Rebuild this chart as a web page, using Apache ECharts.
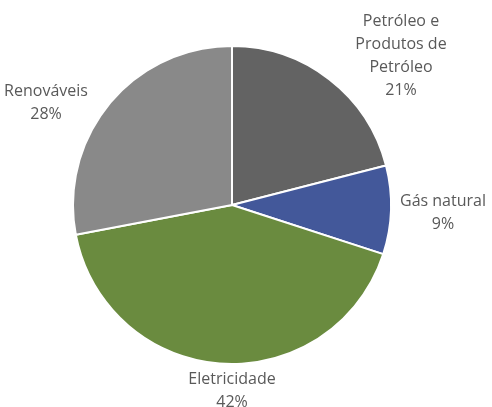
<!DOCTYPE html>
<html>
<head>
<meta charset="utf-8">
<script src="https://cdn.jsdelivr.net/npm/echarts@6/dist/echarts.min.js"></script>
<style>
  html, body { margin: 0; padding: 0; background: #fff; }
  #chart { width: 492px; height: 407px; }
</style>
</head>
<body>
<div id="chart"></div>
<script>
var categories = ["Petróleo e\nProdutos de\nPetróleo", "Gás natural", "Eletricidade", "Renováveis"];
var values = [21, 9, 42, 28];
var colors = ["#636363", "#43589a", "#6a8b3f", "#898989"];
// label centres as placed in the reference
var labelSpots = [[401, 56], [443, 213], [232, 391], [46, 103]];

var chart = echarts.init(document.getElementById("chart"));
var option = {
  backgroundColor: "#fff",
  animation: false,
  series: [{
    type: "pie",
    center: [232, 205],
    radius: 159,
    startAngle: 90,
    clockwise: true,
    data: categories.map(function (c, i) {
      return { name: c, value: values[i], itemStyle: { color: colors[i] } };
    }),
    itemStyle: { borderColor: "#fff", borderWidth: 2 },
    label: {
      show: true,
      position: "outside",
      formatter: "{b}\n{d}%",
      color: "#595959",
      fontFamily: "Open Sans",
      fontSize: 16,
      lineHeight: 23,
      overflow: "none"
    },
    labelLine: { show: false },
    labelLayout: function (p) {
      var s = labelSpots[p.dataIndex];
      return { x: s[0], y: s[1], align: "center", verticalAlign: "middle" };
    }
  }]
};
chart.setOption(option);
</script>
</body>
</html>
